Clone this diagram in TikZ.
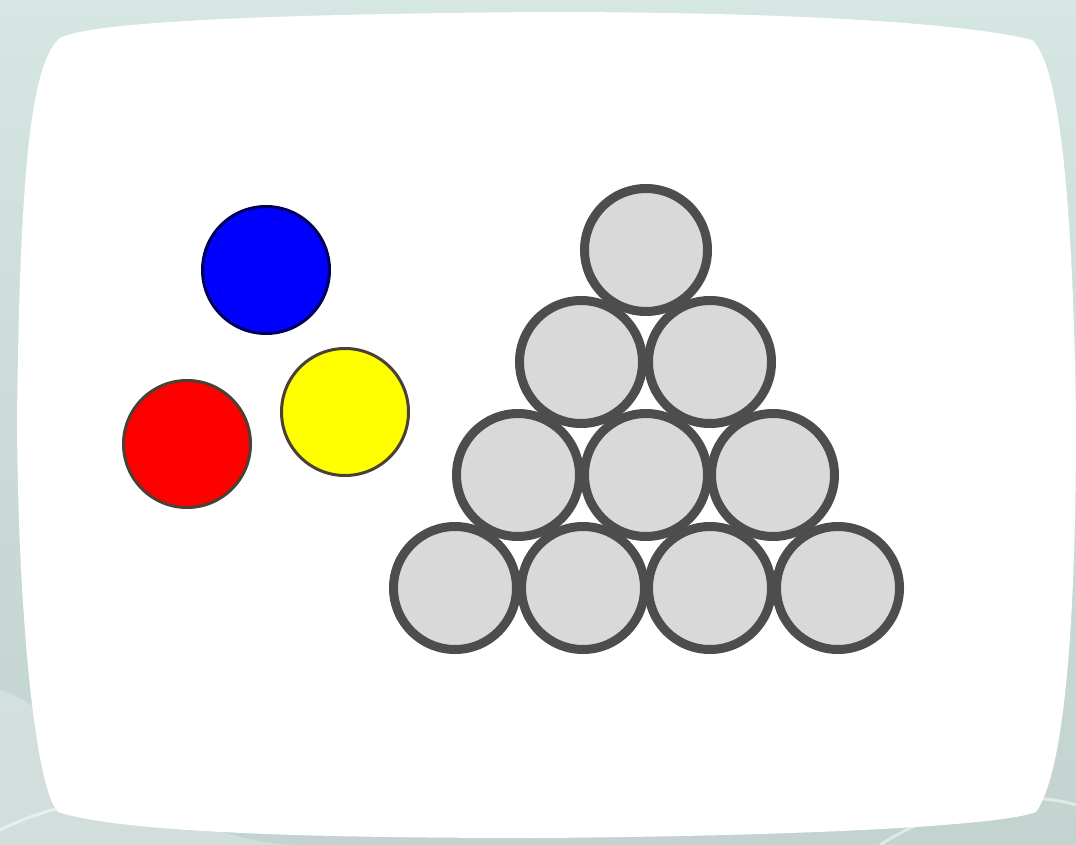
\documentclass[tikz,border=0pt]{standalone}
\usetikzlibrary{shapes.geometric}
\definecolor{bgA}{HTML}{D6E7E3}
\definecolor{bgB}{HTML}{C3D3CF}
\definecolor{ballgray}{HTML}{D9D9D9}
\definecolor{ringgray}{HTML}{4D4D4D}
\definecolor{thinring}{HTML}{4A4036}
\definecolor{pureyellow}{HTML}{FFFF00}
\definecolor{purered}{HTML}{FF0000}
\definecolor{pureblue}{HTML}{0000FF}
\tikzset{
  grayball/.style={circle, draw=ringgray, fill=ballgray, line width=9pt, minimum size=123pt, inner sep=0pt},
  colorball/.style={circle, draw=thinring, line width=3pt, minimum size=127pt, inner sep=0pt},
}
\begin{document}
\begin{tikzpicture}[x=1pt,y=-1pt]
\useasboundingbox (0,0) rectangle (1076,845);
% background
\shade[top color=bgA, bottom color=bgB, middle color=bgB!60!bgA] (0,0) rectangle (1076,845);
\fill[white, opacity=0.25] (0,845) -- (0,690) .. controls (40,700) and (90,760) .. (150,800) .. controls (200,830) and (260,845) .. (300,845) -- cycle;
\draw[white, opacity=0.5, line width=3pt] (0,830) .. controls (60,800) and (140,790) .. (200,800);
\draw[white, opacity=0.5, line width=3pt] (880,845) .. controls (950,800) and (1030,790) .. (1076,805);
% screen
\fill[white] (17,420) .. controls (20,160) and (32,62) .. (60,38)
  .. controls (95,20) and (300,14) .. (540,12)
  .. controls (780,12) and (960,22) .. (1032,40)
  .. controls (1058,62) and (1073,190) .. (1076,420)
  .. controls (1076,610) and (1066,770) .. (1036,812)
  .. controls (1000,826) and (800,836) .. (540,838)
  .. controls (300,838) and (120,832) .. (58,812)
  .. controls (36,790) and (18,620) .. cycle;
% coloured balls
\node[colorball, fill=pureblue, draw=blue!35!black] (blue) at (266,270) {};
\node[colorball, fill=purered] (red) at (187,444) {};
\node[colorball, fill=pureyellow] (yellow) at (345,412) {};
% triangle of balls
\node[grayball] (g1) at (646,250) {};
\node[grayball] (g21) at (581,362) {};
\node[grayball] (g22) at (710,362) {};
\node[grayball] (g31) at (518,475) {};
\node[grayball] (g32) at (646,475) {};
\node[grayball] (g33) at (773,475) {};
\node[grayball] (g41) at (455,588) {};
\node[grayball] (g42) at (583,588) {};
\node[grayball] (g43) at (710,588) {};
\node[grayball] (g44) at (838,588) {};
\end{tikzpicture}
\end{document}
